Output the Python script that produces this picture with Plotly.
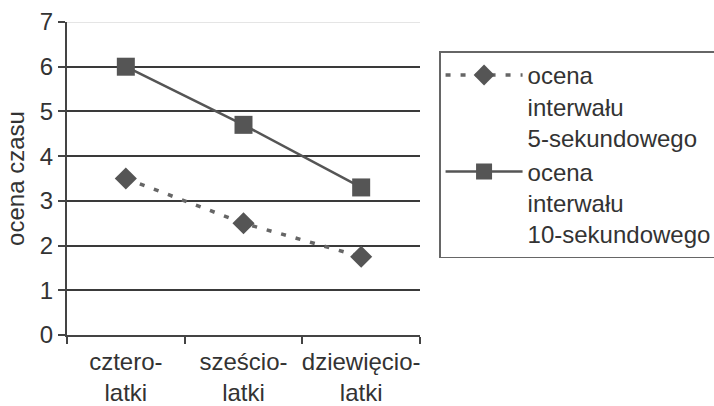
import plotly.graph_objects as go

categories = ["cztero-<br>latki", "sześcio-<br>latki", "dziewięcio-<br>latki"]
series5_name = "ocena<br>interwału<br>5-sekundowego"
series5 = [3.5, 2.5, 1.75]
series10_name = "ocena<br>interwału<br>10-sekundowego"
series10 = [6.0, 4.7, 3.3]
y_ticks = [0, 1, 2, 3, 4, 5, 6, 7]

FONT = "Liberation Sans, Arial, sans-serif"
FS = 24

fig = go.Figure()
fig.add_trace(go.Scatter(
    x=categories, y=series5, name=series5_name, mode="lines+markers",
    line=dict(color="#666666", width=3.5, dash="5px,10px"),
    marker=dict(symbol="diamond", size=17, color="#555555"),
))
fig.add_trace(go.Scatter(
    x=categories, y=series10, name=series10_name, mode="lines+markers",
    line=dict(color="#555555", width=2.5),
    marker=dict(symbol="square", size=18, color="#555555"),
))

# light top gridline
fig.add_shape(type="line", xref="paper", x0=0, x1=1, yref="y", y0=y_ticks[-1], y1=y_ticks[-1],
              line=dict(color="#dddddd", width=1.5), layer="above")

fig.update_layout(
    width=714, height=406,
    margin=dict(l=67, r=294, t=22, b=71, autoexpand=False),
    paper_bgcolor="white", plot_bgcolor="white",
    font=dict(family=FONT, size=FS, color="#333333"),
    showlegend=True,
    legend=dict(
        x=1.054, y=0.906, xanchor="left", yanchor="top",
        bordercolor="#666666", borderwidth=1.5, bgcolor="white",
        valign="top", tracegroupgap=0, itemwidth=77,
        font=dict(family=FONT, size=FS, color="#333333"),
    ),
    xaxis=dict(
        type="category", range=[-0.5, 2.5], tickson="boundaries",
        showgrid=False, showline=True, linecolor="#444444", linewidth=2,
        ticks="outside", ticklen=7, tickcolor="#444444", tickwidth=2, tickangle=0,
        ticklabelstandoff=4,
        tickfont=dict(family=FONT, size=FS, color="#333333"),
        automargin=False,
    ),
    yaxis=dict(
        range=[0, 7], tickvals=y_ticks, showgrid=True, gridcolor="#3a3a3a", gridwidth=1.5,
        zeroline=False, showline=True, linecolor="#444444", linewidth=2,
        ticks="outside", ticklen=7, tickcolor="#444444", tickwidth=2,
        tickfont=dict(family=FONT, size=FS, color="#333333"),
        title=dict(text="ocena czasu", font=dict(family=FONT, size=FS, color="#333333"), standoff=8),
        automargin=False,
    ),
)

fig.write_html("out.html")
